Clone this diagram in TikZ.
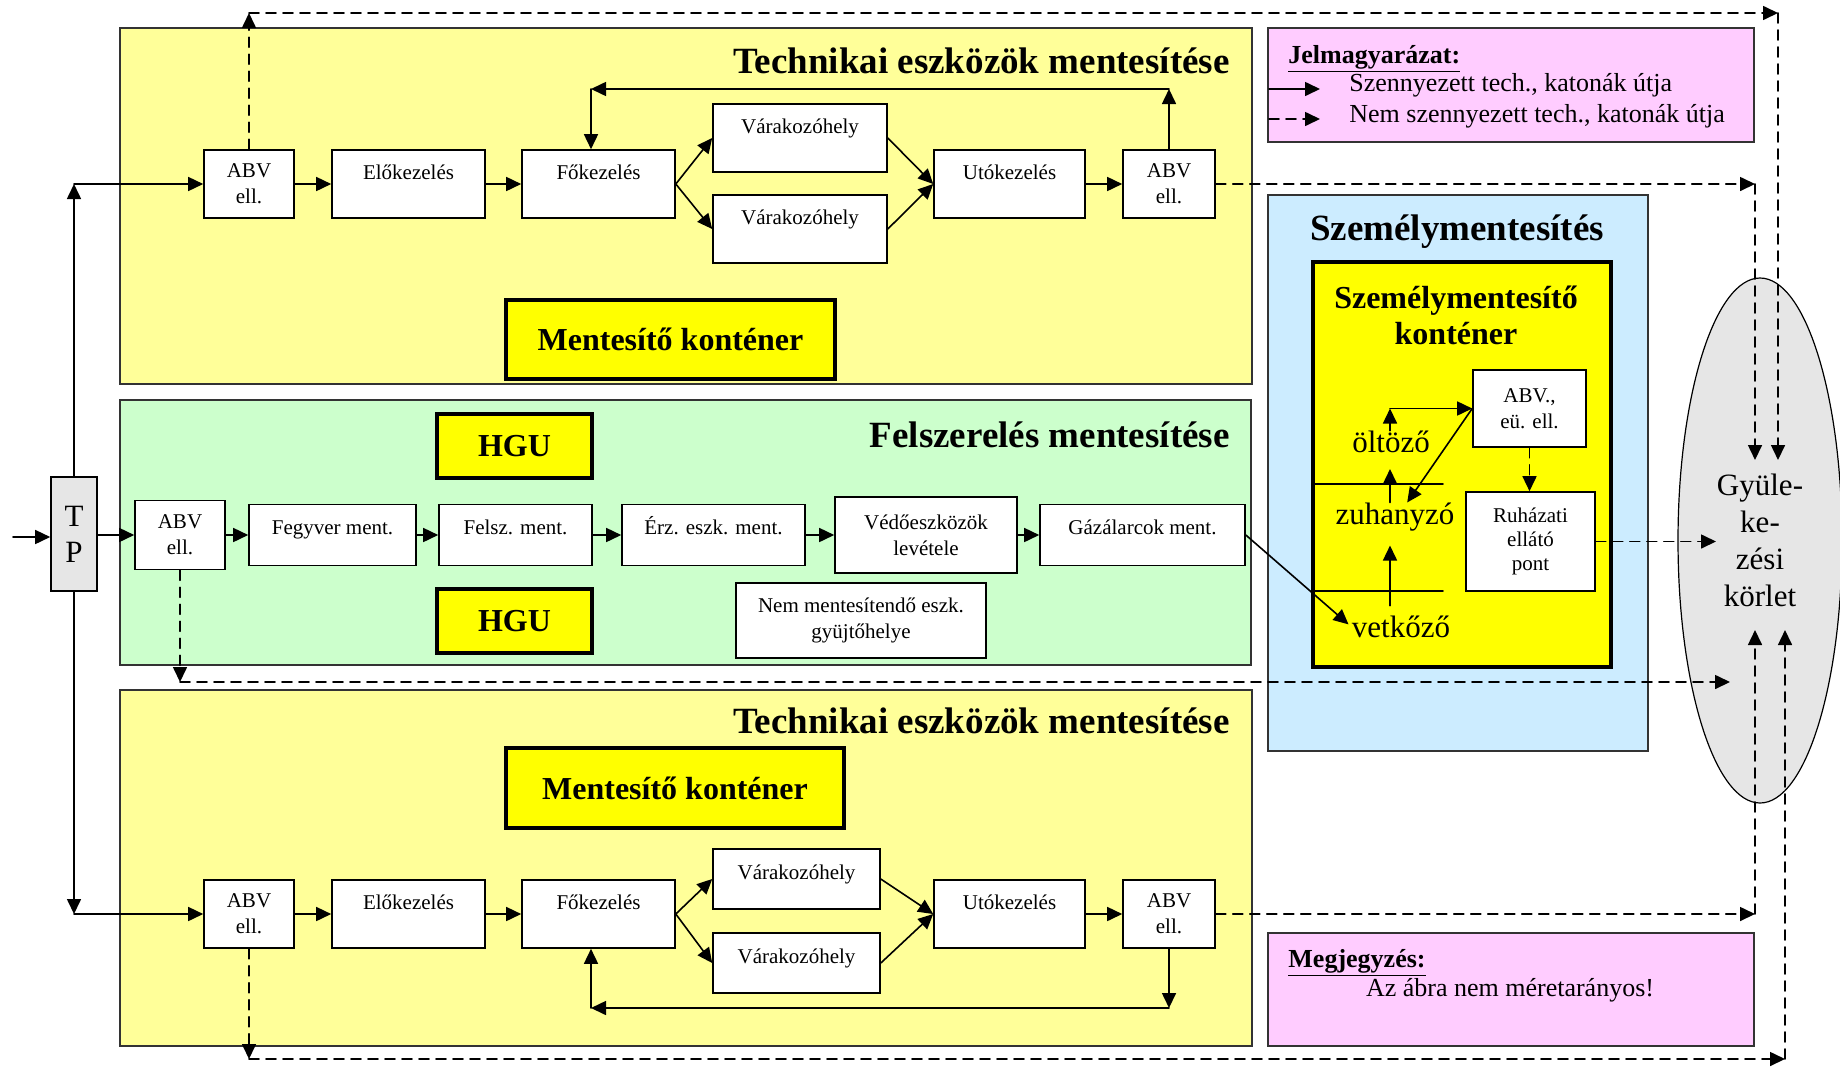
\documentclass[tikz,border=0pt]{standalone}
\usepackage{fontspec}
\setmainfont{Liberation Serif}
\usetikzlibrary{arrows.meta,positioning,shapes.geometric}

\definecolor{techyellow}{HTML}{FFFF99}
\definecolor{felgreen}{HTML}{CCFFCC}
\definecolor{szemblue}{HTML}{CCECFF}
\definecolor{notepink}{HTML}{FFCCFF}
\definecolor{contyellow}{HTML}{FFFF00}
\definecolor{gyulgray}{HTML}{E6E6E6}

\tikzset{
  arr/.style={-{Triangle[length=7.5pt,width=7pt]},line width=0.8pt},
  darr/.style={arr,dash pattern=on 5pt off 3.5pt},
  section/.style={draw=black!80,line width=0.6pt,inner sep=0pt},
  stepbox/.style={draw,fill=white,line width=0.8pt,inner sep=1pt,align=center,
    font=\fontsize{10.5}{13}\selectfont},
  topline/.style={text height=8pt,text depth=#1},
  contbox/.style={draw,fill=contyellow,line width=2.2pt,inner sep=0pt,
    font=\fontsize{16}{18}\selectfont\bfseries},
  sectitle/.style={inner sep=0pt,font=\fontsize{18.5}{22}\selectfont\bfseries},
  roomtext/.style={inner sep=0pt,font=\fontsize{15.5}{18}\selectfont},
  legtext/.style={inner sep=0pt,anchor=west,font=\fontsize{13}{15}\selectfont}
}

\begin{document}
\begin{tikzpicture}[x=0.5pt,y=-0.5pt,line cap=round]
  \useasboundingbox (0,0) rectangle (1840,1066);
  % Sections
  \node (tech1)  [section,fill=techyellow,minimum width=566pt,minimum height=178pt] at (686,206) {};
  \node (felsz)  [section,fill=felgreen,minimum width=565.5pt,minimum height=132.5pt] at (685.5,532.5) {};
  \node (tech2)  [section,fill=techyellow,minimum width=566pt,minimum height=178pt] at (686,868) {};
  \node (legend) [section,fill=notepink,minimum width=243pt,minimum height=57pt] at (1511,85) {};
  \node (szem)   [section,fill=szemblue,minimum width=190pt,minimum height=278pt] at (1458,473) {};
  \node (note)   [section,fill=notepink,minimum width=243pt,minimum height=56.5pt] at (1511,989.5) {};
  \node (szcont) [draw,fill=contyellow,line width=2pt,minimum width=149pt,minimum height=202.5pt] at (1462,464.5) {};
  \node (gyul)   [ellipse,draw,fill=gyulgray,line width=0.6pt,minimum width=82pt,minimum height=262.5pt,
                  inner sep=0pt,align=center,font=\fontsize{15.5}{18.5}\selectfont] at (1760,540.5) {Gyüle-\\ke-\\zési\\körlet};
  % Titles
  \node (t1title)  [sectitle,anchor=base east] at (1230,73) {Technikai eszközök mentesítése};
  \node (feltitle) [sectitle,anchor=base east] at (1230,447) {Felszerelés mentesítése};
  \node (t2title)  [sectitle,anchor=base east] at (1230,733) {Technikai eszközök mentesítése};
  \node (sztitle)  [sectitle,anchor=base] at (1457,240) {Személymentesítés};
  \node (sctitle)  [align=center,inner sep=0pt,font=\fontsize{16}{18}\selectfont\bfseries] at (1456,315) {Személymentesítő\\konténer};
  % Legend
  \node (jel) [anchor=base west,inner sep=0pt,font=\fontsize{13}{15}\selectfont\bfseries] at (1288,63) {\underline{Jelmagyarázat:}};
  \coordinate (lgA1) at (1269,89);  \coordinate (lgB1) at (1320,89);
  \coordinate (lgA2) at (1269,119); \coordinate (lgB2) at (1320,119);
  \node (lg1) [legtext] at (1349,85) {Szennyezett tech., katonák útja};
  \node (lg2) [legtext] at (1349,116) {Nem szennyezett tech., katonák útja};
  \draw[arr] (lgA1) -- (lgB1);
  \draw[darr] (lgA2) -- (lgB2);
  % Note
  \node (megj)  [anchor=base west,inner sep=0pt,font=\fontsize{13}{15}\selectfont\bfseries] at (1288,967) {\underline{Megjegyzés:}};
  \node (megjt) [inner sep=0pt,font=\fontsize{13}{15}\selectfont] at (1510,990) {Az ábra nem méretarányos!};
  % Containers
  \node (contA) [contbox,minimum width=164.5pt,minimum height=39.5pt] at (670.5,339.5) {Mentesítő konténer};
  \node (contC) [contbox,minimum width=169pt,minimum height=40pt] at (675,788) {Mentesítő konténer};
  \node (hgu1)  [contbox,minimum width=77.5pt,minimum height=32pt] at (514.5,446) {HGU};
  \node (hgu2)  [contbox,minimum width=77.5pt,minimum height=32pt] at (514.5,621) {HGU};
  % TP
  \node (tp) [draw,fill=gyulgray,line width=0.8pt,inner sep=0pt,minimum width=23pt,minimum height=57pt,
              align=center,font=\fontsize{15.5}{18}\selectfont] at (74,534) {T\\P};
  % Upper row
  \node (abvA)  [stepbox,minimum width=45pt,minimum height=34pt] at (249,184) {ABV\\ell.};
  \node (eloA)  [stepbox,topline=13pt,minimum width=76.5pt,minimum height=34pt,right=18.2pt of abvA] {Előkezelés};
  \node (foA)   [stepbox,topline=13pt,minimum width=76.5pt,minimum height=34pt,right=17.7pt of eloA] {Főkezelés};
  \node (varA1) [stepbox,topline=13pt,minimum width=87pt,minimum height=34pt] at (800,138) {Várakozóhely};
  \node (varA2) [stepbox,topline=13pt,minimum width=87pt,minimum height=34pt] at (800,229) {Várakozóhely};
  \node (utoA)  [stepbox,topline=13pt,minimum width=75.5pt,minimum height=34pt] at (1009.5,184) {Utókezelés};
  \node (abvA2) [stepbox,minimum width=46pt,minimum height=34pt,right=18.2pt of utoA] {ABV\\ell.};
  % Middle row
  \node (abvB) [stepbox,minimum width=45pt,minimum height=34.5pt] at (180,535) {ABV\\ell.};
  \node (fegB) [stepbox,topline=9pt,minimum width=83.5pt,minimum height=30.5pt,right=11.2pt of abvB] {Fegyver ment.};
  \node (felB) [stepbox,topline=9pt,minimum width=76.5pt,minimum height=30.5pt,right=10.7pt of fegB] {Felsz. ment.};
  \node (erzB) [stepbox,topline=9pt,minimum width=91.5pt,minimum height=30.5pt,right=14.2pt of felB] {Érz. eszk. ment.};
  \node (vedB) [stepbox,minimum width=91pt,minimum height=38pt,right=14.2pt of erzB] {Védőeszközök\\levétele};
  \node (gazB) [stepbox,topline=9pt,minimum width=102.5pt,minimum height=30.5pt,right=10.7pt of vedB] {Gázálarcok ment.};
  \node (nemB) [stepbox,minimum width=125pt,minimum height=37.5pt] at (861,620.5) {Nem mentesítendő eszk.\\gyüjtőhelye};
  % Lower row
  \node (abvC)  [stepbox,minimum width=45pt,minimum height=34pt] at (249,914) {ABV\\ell.};
  \node (eloC)  [stepbox,topline=13pt,minimum width=76.5pt,minimum height=34pt,right=18.2pt of abvC] {Előkezelés};
  \node (foC)   [stepbox,topline=13pt,minimum width=76.5pt,minimum height=34pt,right=17.7pt of eloC] {Főkezelés};
  \node (varC1) [stepbox,topline=8pt,minimum width=83.5pt,minimum height=30pt] at (796.5,879) {Várakozóhely};
  \node (varC2) [stepbox,topline=8pt,minimum width=83.5pt,minimum height=30pt] at (796.5,963) {Várakozóhely};
  \node (utoC)  [stepbox,topline=13pt,minimum width=75.5pt,minimum height=34pt] at (1009.5,914) {Utókezelés};
  \node (abvC2) [stepbox,minimum width=46pt,minimum height=34pt,right=18.2pt of utoC] {ABV\\ell.};
  % Personnel container
  \node (abvD) [stepbox,minimum width=56.5pt,minimum height=38.5pt] at (1529.5,408.5) {ABV.,\\eü. ell.};
  \node (ruhD) [stepbox,minimum width=64.5pt,minimum height=49.5pt,font=\fontsize{10.5}{12}\selectfont] at (1530.5,541.5) {Ruházati\\ellátó\\pont};
  \node (oltD) [roomtext] at (1391,442) {öltöző};
  \node (zuhD) [roomtext] at (1395,517) {zuhanyzó};
  \node (vetD) [roomtext] at (1401,627) {vetkőző};
  \draw[line width=0.8pt] (1315,484) -- (1443,484);
  \draw[line width=0.8pt] (1315,591) -- (1443,591);
  % Helper coordinates
  \coordinate (zuTop) at (1390,469);
  \coordinate (yTop) at (0,13);
  \coordinate (yMid) at (0,682);
  \coordinate (yBot) at (0,1059);
  \coordinate (yLoopA) at (0,89);
  \coordinate (yLoopC) at (0,1008);
  \coordinate (xLoop) at (591,0);
  \coordinate (xA) at (1778,0);
  \coordinate (xB) at (1755,0);
  \coordinate (xC) at (1785,0);
  \coordinate (xM) at (1730,0);
  \coordinate (xR) at (1716,0);
  \coordinate (eTop) at (0,460);
  \coordinate (eBot) at (0,630);
  \coordinate (in) at (13,537);
  % Entry and TP
  \draw[arr] (in) -- (in -| tp.west);
  \draw[arr] (tp.east |- abvB) -- (abvB.west);
  \draw[arr] (tp.north) -- (tp.north |- abvA.west);
  \draw[arr] (tp.north |- abvA.west) -- (abvA.west);
  \draw[arr] (tp.south) -- (tp.south |- abvC.west);
  \draw[arr] (tp.south |- abvC.west) -- (abvC.west);
  % Chains
  \foreach \a/\b in {abvA/eloA,eloA/foA,utoA/abvA2,abvC/eloC,eloC/foC,utoC/abvC2,
                     abvB/fegB,fegB/felB,felB/erzB,erzB/vedB,vedB/gazB}
    \draw[arr] (\a) -- (\b);
  \foreach \r in {A,C} {
    \draw[arr] (fo\r.east) -- (var\r1.west);
    \draw[arr] (fo\r.east) -- (var\r2.west);
    \draw[arr] (var\r1.east) -- (uto\r.west);
    \draw[arr] (var\r2.east) -- (uto\r.west);
  }
  % Loops back to Főkezelés
  \draw[arr] (abvA2.north) -- (abvA2.north |- yLoopA);
  \draw[arr] (abvA2.north |- yLoopA) -- (xLoop |- yLoopA);
  \draw[arr] (xLoop |- yLoopA) -- (xLoop |- foA.north);
  \draw[arr] (abvC2.south) -- (abvC2.south |- yLoopC);
  \draw[arr] (abvC2.south |- yLoopC) -- (xLoop |- yLoopC);
  \draw[arr] (xLoop |- yLoopC) -- (xLoop |- foC.south);
  % Clean paths
  \draw[darr] (abvA.north) -- (abvA.north |- yTop);
  \draw[darr] (abvA.north |- yTop) -- (xA |- yTop);
  \draw[darr] (xA |- yTop) -- (xA |- eTop);
  \draw[darr] (abvA2.east) -- (xB |- abvA2.east);
  \draw[darr] (xB |- abvA2.east) -- (xB |- eTop);
  \draw[darr] (abvB.south) -- (abvB.south |- yMid);
  \draw[darr] (abvB.south |- yMid) -- (xM |- yMid);
  \draw[darr] (abvC2.east) -- (xB |- abvC2.east);
  \draw[darr] (xB |- abvC2.east) -- (xB |- eBot);
  \draw[darr] (abvC.south) -- (abvC.south |- yBot);
  \draw[darr] (abvC.south |- yBot) -- (xC |- yBot);
  \draw[darr] (xC |- yBot) -- (xC |- eBot);
  % Personnel flow
  \draw[arr,shorten >=2pt] (gazB.east) -- (vetD.west);
  \draw[arr,shorten <=5pt,shorten >=7pt] (vetD.north -| zuTop) -- (zuhD.south -| zuTop);
  \draw[arr] (zuhD.north -| zuTop) -- (zuTop);
  \draw[arr] (oltD.north -| zuTop) -- (zuTop |- abvD.west);
  \draw[arr] (zuTop |- abvD.west) -- (abvD.west);
  \draw[arr] (abvD.west) -- (zuhD.50);
  \draw[darr] (abvD.south) -- (abvD.south |- ruhD.north);
  \draw[darr] (ruhD.east) -- (xR |- ruhD.east);
\end{tikzpicture}
\end{document}
